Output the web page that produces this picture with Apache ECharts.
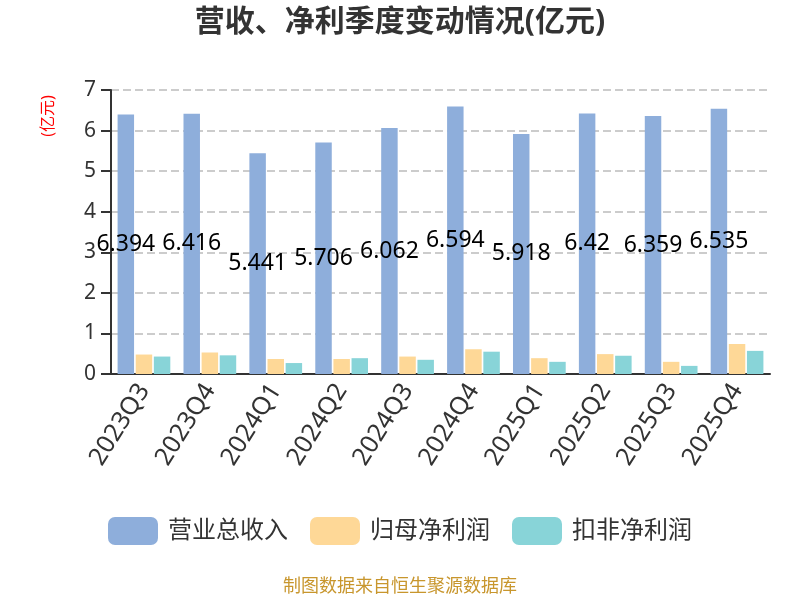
<!DOCTYPE html>
<html>
<head>
<meta charset="utf-8">
<script src="https://cdn.jsdelivr.net/npm/echarts@6/dist/echarts.min.js"></script>
<style>
  html, body { margin: 0; padding: 0; background: #fff; }
  #chart { width: 800px; height: 600px; }
</style>
</head>
<body>
<div id="chart"></div>
<script>
// 季度
var quarters = ["2023Q3", "2023Q4", "2024Q1", "2024Q2", "2024Q3", "2024Q4", "2025Q1", "2025Q2", "2025Q3", "2025Q4"];
// 营业总收入(亿元)
var revenue = [6.394, 6.416, 5.441, 5.706, 6.062, 6.594, 5.918, 6.42, 6.359, 6.535];
// 归母净利润(亿元) - 从图上估读
var netProfit = [0.48, 0.53, 0.37, 0.37, 0.43, 0.61, 0.39, 0.49, 0.30, 0.74];
// 扣非净利润(亿元) - 从图上估读
var deductedProfit = [0.43, 0.46, 0.27, 0.39, 0.35, 0.55, 0.30, 0.45, 0.20, 0.57];

var font = "'Noto Sans', 'Noto Sans CJK SC', sans-serif";

var myecharts = echarts.init(document.getElementById("chart"));
myecharts.setOption({
  animation: false,
  textStyle: { fontFamily: font },
  title: {
    text: "营收、净利季度变动情况(亿元)",
    left: "center",
    top: 2,
    textStyle: { fontSize: 30, fontWeight: "bold", color: "#333", fontFamily: font },
  },
  graphic: [
    {
      // 纵轴单位
      type: "text",
      x: 48,
      y: 116,
      rotation: Math.PI / 2,
      style: {
        text: "(亿元)",
        fontSize: 16,
        fill: "red",
        fontFamily: font,
        align: "center",
        verticalAlign: "middle",
      },
    },
    {
      type: "text",
      left: "center",
      top: 578,
      style: { text: "制图数据来自恒生聚源数据库", fontSize: 18, fill: "#c8962d", fontFamily: font },
    },
  ],
  legend: {
    bottom: 50,
    left: "center",
    itemWidth: 50,
    itemHeight: 28,
    itemGap: 22,
    icon: "roundRect",
    textStyle: { fontSize: 24, color: "#333", padding: [0, 0, 0, 5] },
    data: ["营业总收入", "归母净利润", "扣非净利润"],
  },
  grid: {
    left: 111,
    right: 30,
    top: 90,
    bottom: 226,
  },
  xAxis: {
    type: "category",
    data: quarters,
    axisLine: { lineStyle: { color: "#333", width: 2 } },
    axisTick: { lineStyle: { color: "#333", width: 2 }, length: 8 },
    axisLabel: { rotate: 58, fontSize: 25, color: "#333", margin: 12 },
  },
  yAxis: {
    type: "value",
    min: 0,
    max: 7,
    interval: 1,
    axisLine: { show: true, lineStyle: { color: "#333", width: 2 } },
    axisTick: { show: true, lineStyle: { color: "#333", width: 2 }, length: 10 },
    axisLabel: { fontSize: 21, color: "#333", margin: 15 },
    splitLine: { lineStyle: { type: "dashed", color: "#ccc", width: 2 } },
  },
  series: [
    {
      name: "营业总收入",
      type: "bar",
      barGap: "10%",
      barCategoryGap: "20%",
      data: revenue,
      itemStyle: { color: "#8eaedb" },
      label: { show: true, position: "inside", fontSize: 23, color: "#000" },
    },
    {
      name: "归母净利润",
      type: "bar",
      data: netProfit,
      itemStyle: { color: "#fed897" },
    },
    {
      name: "扣非净利润",
      type: "bar",
      data: deductedProfit,
      itemStyle: { color: "#88d4d8" },
    },
  ],
});
</script>
</body>
</html>
